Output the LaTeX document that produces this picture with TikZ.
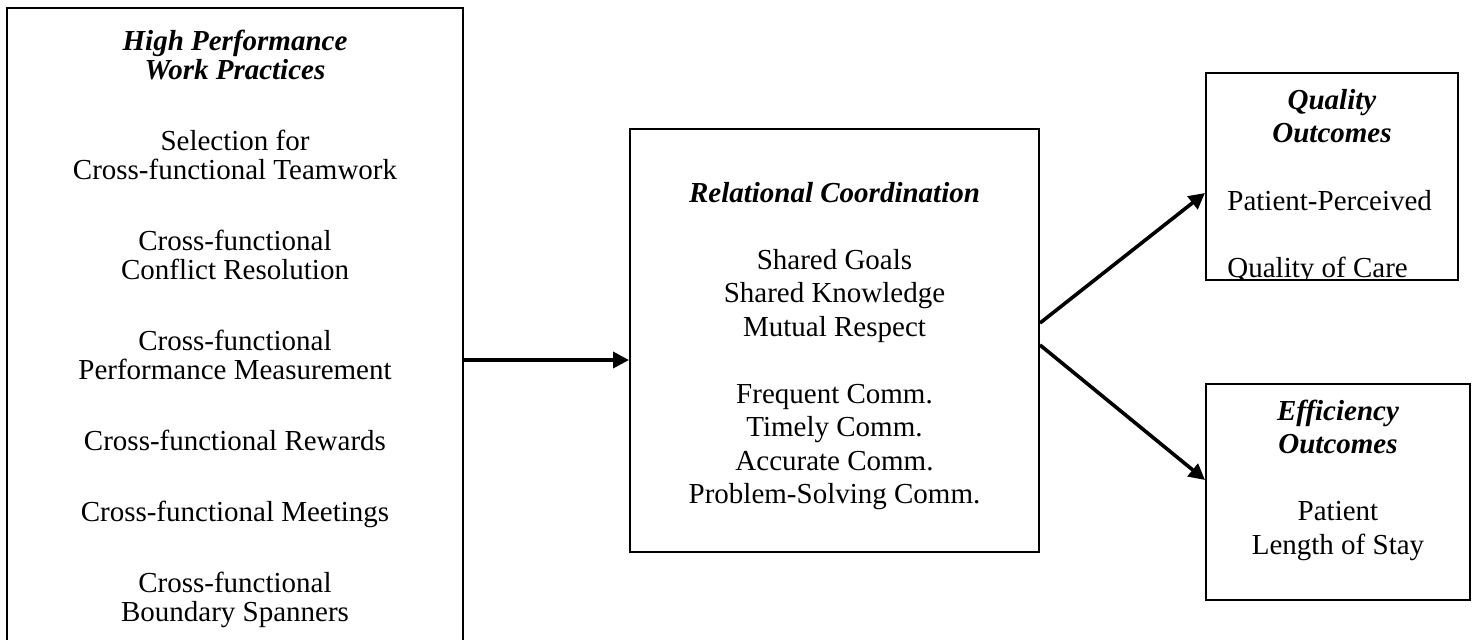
\documentclass[tikz,border=0pt]{standalone}
\usepackage{fontspec}
\setmainfont{Liberation Serif}
\usetikzlibrary{arrows.meta}
\begin{document}
\begin{tikzpicture}[x=0.5pt, y=-0.5pt,
    frame/.style={draw, line width=1pt, inner sep=0pt},
    txt/.style={inner sep=0pt, align=center, font=\fontsize{14.5}{14.5}\selectfont},
    txtwide/.style={inner sep=0pt, align=center, font=\fontsize{14.5}{16.75}\selectfont},
    link/.style={line width=1.8pt, -{Triangle[length=8pt, width=8pt]}}]
    \useasboundingbox (0,0) rectangle (1478,639);
    \clip (0,0) rectangle (1478,639);
    \node[frame, minimum width=228pt, minimum height=352pt] (hpwp) at (235,360) {};
    \node[frame, minimum width=204.5pt, minimum height=211.5pt] (rc) at (834.5,340.5) {};
    \node[frame, minimum width=126pt, minimum height=103.5pt] (qual) at (1332,176.5) {};
    \node[frame, minimum width=132pt, minimum height=108pt] (eff) at (1338,492) {};
    \node[txt] (hpwptext) at (235,328.5) {\textbf{\textit{High Performance}}\\\textbf{\textit{Work Practices}}\\[21pt]
        Selection for\\Cross-functional Teamwork\\[21pt]
        Cross-functional\\Conflict Resolution\\[21pt]
        Cross-functional\\Performance Measurement\\[21pt]
        Cross-functional Rewards\\[21pt]
        Cross-functional Meetings\\[21pt]
        Cross-functional\\Boundary Spanners};
    \node[txtwide] (rctext) at (834.5,346) {\textbf{\textit{Relational Coordination}}\\[16.75pt]
        Shared Goals\\Shared Knowledge\\Mutual Respect\\[16.75pt]
        Frequent Comm.\\Timely Comm.\\Accurate Comm.\\Problem-Solving Comm.};
    \begin{scope}
        \clip (qual.north west) rectangle ([yshift=1pt]qual.south east);
        \node[txtwide] (qualtitle) at (1332,116) {\textbf{\textit{Quality}}\\\textbf{\textit{Outcomes}}};
        \node[txtwide, align=left, anchor=west] (qualtext) at (1227,237.5) {Patient-Perceived\\[16.75pt]Quality of Care};
    \end{scope}
    \node[txtwide] (efftext) at (1338,480) {\textbf{\textit{Efficiency}}\\\textbf{\textit{Outcomes}}\\[16.75pt]
        Patient\\Length of Stay};
    \draw[link] (hpwp.east) -- (hpwp.east -| rc.west);
    \draw[link] ([yshift=8.75pt]rc.east) -- ([yshift=-8.25pt]qual.west);
    \draw[link] ([yshift=-2.25pt]rc.east) -- ([yshift=6pt]eff.west);
\end{tikzpicture}
\end{document}
